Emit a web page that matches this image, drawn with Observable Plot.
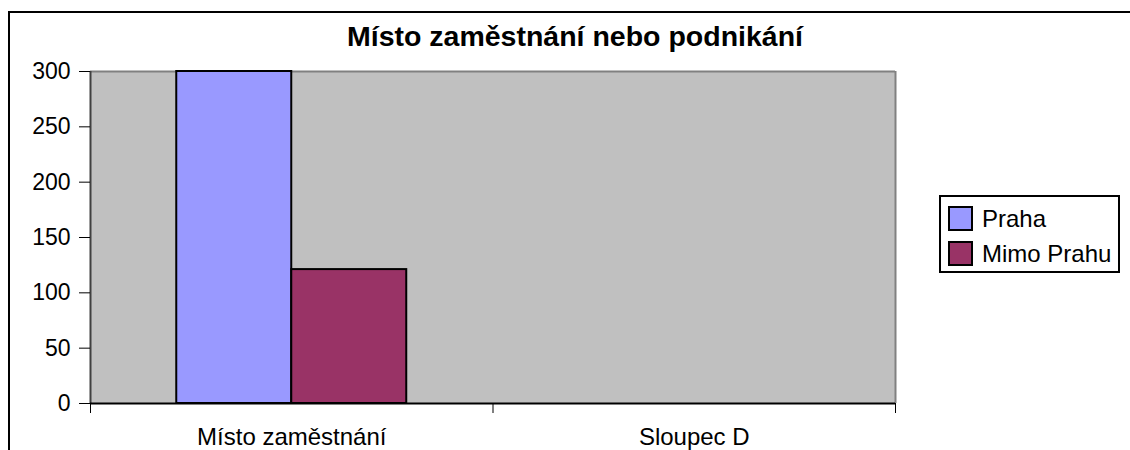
<!DOCTYPE html>
<html>
<head>
<meta charset="utf-8">
<script src="https://cdn.jsdelivr.net/npm/d3@7"></script>
<script src="https://cdn.jsdelivr.net/npm/@observablehq/plot@0.6"></script>
<style>
  html, body { margin: 0; padding: 0; background: white; overflow: hidden; }
  #wrap { position: relative; width: 1130px; height: 450px; overflow: hidden; font-family: "Liberation Sans", Arial, sans-serif; }
  #chart { position: absolute; left: 0; top: 0; }
  #outer { position: absolute; left: 8px; top: 11px; width: 1200px; height: 600px; border: 2px solid #000; box-sizing: border-box; pointer-events: none; }
  #title { position: absolute; left: 0; width: 1150px; top: 21px; text-align: center; font-weight: bold; font-size: 28.5px; line-height: 30px; color: #000; }
  #legend { position: absolute; left: 939px; top: 195px; width: 181px; height: 78px; box-sizing: border-box; border: 2px solid #000; background: #fff; padding: 4px 0 0 7px; }
  .item { display: flex; align-items: center; height: 35px; font-size: 24px; color: #000; }
  .sw { width: 25px; height: 25px; box-sizing: border-box; border: 2px solid #000; margin-right: 9px; }
</style>
</head>
<body>
<div id="wrap">
  <div id="chart"></div>
  <div id="title"></div>
  <div id="legend"></div>
  <div id="outer"></div>
</div>
<script>
const title = "Místo zaměstnání nebo podnikání";
const categories = ["Místo zaměstnání", "Sloupec D"];
const seriesNames = ["Praha", "Mimo Prahu"];
const seriesColors = ["#9999FF", "#993366"];
const prahaValues = [300, null];
const mimoPrahuValues = [121, null];
const yTicks = [0, 50, 100, 150, 200, 250, 300];

const gapWidth = 0.75; // Excel-style gap between category groups
const seriesValues = [prahaValues, mimoPrahuValues];
const groupWidth = 1 / (1 + gapWidth);
const barWidth = groupWidth / seriesNames.length;
const rows = [];
categories.forEach((c, ci) => {
  seriesNames.forEach((s, si) => {
    const v = seriesValues[si][ci];
    if (v == null) return;
    const x1 = ci + (1 - groupWidth) / 2 + si * barWidth;
    rows.push({category: c, series: s, value: v, x1, x2: x1 + barWidth});
  });
});

const chart = Plot.plot({
  width: 1130,
  height: 450,
  marginLeft: 90,
  marginRight: 235,
  marginTop: 71,
  marginBottom: 47,
  style: {fontFamily: "'Liberation Sans', Arial, sans-serif", fontSize: "24px", color: "#000", background: "transparent"},
  x: {type: "linear", domain: [0, categories.length], axis: null},
  y: {domain: [0, 300], axis: null},
  color: {domain: seriesNames, range: seriesColors},
  marks: [
    Plot.frame({fill: "#C0C0C0", stroke: "none"}),
    Plot.ruleY([300], {stroke: "#808080", strokeWidth: 2}),
    Plot.ruleX([categories.length], {stroke: "#808080", strokeWidth: 2}),
    Plot.rect(rows, {x1: "x1", x2: "x2", y1: 0, y2: "value", fill: "series", stroke: "#000", strokeWidth: 2}),
    Plot.ruleX([0], {stroke: "#404040", strokeWidth: 2}),
    Plot.ruleY([0], {stroke: "#000", strokeWidth: 2}),
    Plot.axisY({ticks: yTicks, tickSize: 11, tickPadding: 9, tickFormat: d => String(d), label: null, stroke: "#000", fontSize: 23}),
    Plot.axisX({ticks: d3.range(categories.length + 1), tickSize: 10, tickFormat: () => "", label: null, stroke: "#000"}),
    Plot.axisX({ticks: categories.map((c, i) => i + 0.5), tickSize: 0, tickPadding: 24, tickFormat: d => categories[Math.floor(d)], label: null, fontSize: 24})
  ]
});
document.getElementById("chart").appendChild(chart);
document.getElementById("title").textContent = title;

const legend = document.getElementById("legend");
seriesNames.forEach((s, i) => {
  const item = document.createElement("div");
  item.className = "item";
  const sw = document.createElement("div");
  sw.className = "sw";
  sw.style.background = seriesColors[i];
  const label = document.createElement("span");
  label.textContent = s;
  item.appendChild(sw);
  item.appendChild(label);
  legend.appendChild(item);
});
</script>
</body>
</html>
